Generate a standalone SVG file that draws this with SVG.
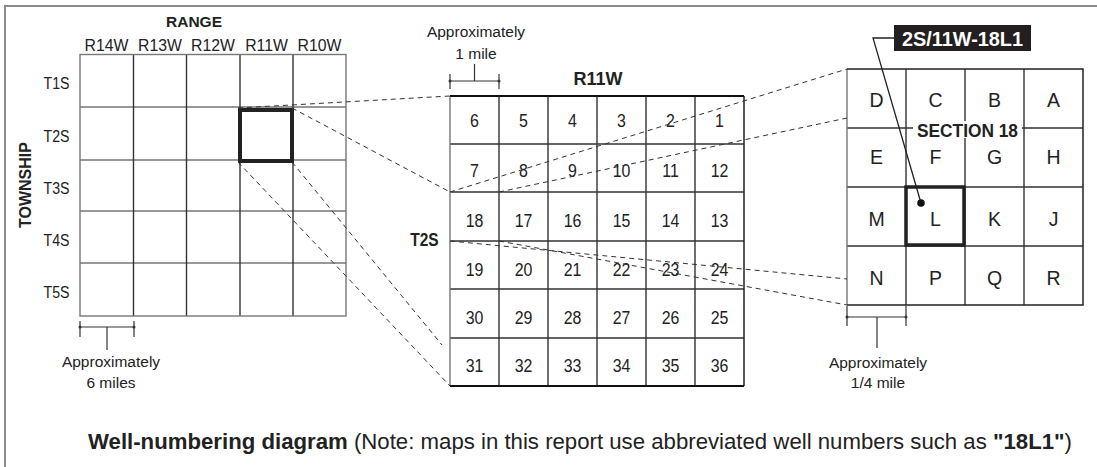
<svg xmlns="http://www.w3.org/2000/svg" width="1097" height="467" viewBox="0 0 1097 467">
<style>
.t{font-family:"Liberation Sans",Arial,sans-serif;fill:#222}
.b{font-weight:bold}
.c{transform-box:fill-box;transform-origin:center;transform:scaleX(0.86)}
.g{fill:none;stroke:#333;stroke-width:1.4}
.gl{fill:none;stroke:#777;stroke-width:1.4}
.thick{fill:none;stroke:#222;stroke-width:4}
.dash{fill:none;stroke:#333;stroke-width:1;stroke-dasharray:5 4}
.sb{fill:none;stroke:#333;stroke-width:1.2}
</style>
<rect x="0" y="0" width="1097" height="467" fill="#fff"/>
<rect x="5" y="6" width="1100" height="470" fill="none" stroke="#8a8a8a" stroke-width="2"/>

<g id="township-grid">
  <text class="t b" x="194" y="27" font-size="15.5" text-anchor="middle">RANGE</text>
  <g class="t" font-size="15.8" text-anchor="middle">
    <text x="106.5" y="51">R14W</text>
    <text x="160" y="51">R13W</text>
    <text x="213" y="51">R12W</text>
    <text x="266.5" y="51">R11W</text>
    <text x="319.5" y="51">R10W</text>
  </g>
  <g class="t" font-size="16.5" text-anchor="middle">
    <text class="c" x="56.5" y="89.5">T1S</text>
    <text class="c" x="56.5" y="142">T2S</text>
    <text class="c" x="56.5" y="194">T3S</text>
    <text class="c" x="56.5" y="246.5">T4S</text>
    <text class="c" x="56.5" y="298">T5S</text>
  </g>
  <text class="t b" font-size="16" text-anchor="middle" transform="translate(31,185) rotate(-90)">TOWNSHIP</text>
  <path class="gl" d="M80,107H346M80,160H346M80,211H346M80,263H346"/>
  <path class="g" d="M133.5,54.5V316M186.5,54.5V316M240,54.5V316M293,54.5V316"/>
  <rect class="gl" x="80" y="54.5" width="266" height="261.5"/>
  <rect class="thick" x="240" y="110" width="52" height="51"/>
  <g id="scale-6mi">
    <path class="sb" d="M80,327H134M80,321V337M134,321V337M107,327V350"/>
    <circle cx="80" cy="327" r="1.5" fill="#333"/><circle cx="134" cy="327" r="1.5" fill="#333"/>
    <text class="t" x="111" y="366.5" font-size="15.5" text-anchor="middle">Approximately</text>
    <text class="t" x="111" y="388" font-size="15.5" text-anchor="middle">6 miles</text>
  </g>
</g>

<g id="section-grid">
  <text class="t b" x="598" y="85" font-size="18" text-anchor="middle">R11W</text>
  <text class="t b c" x="424.5" y="246.5" font-size="18" text-anchor="middle">T2S</text>
  <path class="g" d="M450,144H744M450,192H744M450,241H744M450,289H744M450,338H744"/>
  <path class="g" d="M499,96V386M548,96V386M597,96V386M646,96V386M695,96V386"/>
  <path class="gl" d="M450,96V386"/>
  <path fill="none" stroke="#222" stroke-width="1.5" d="M744,96V386"/>
  <path fill="none" stroke="#111" stroke-width="2.2" d="M450,96H744M450,386H744"/>
  <g class="t" font-size="18.5" text-anchor="middle">
    <text class="c" x="474.5" y="127.5">6</text><text class="c" x="523.5" y="127.5">5</text><text class="c" x="572.5" y="127.5">4</text><text class="c" x="621.5" y="127.5">3</text><text class="c" x="670.5" y="127.5">2</text><text class="c" x="719.5" y="127.5">1</text>
    <text class="c" x="474.5" y="177">7</text><text class="c" x="523.5" y="177">8</text><text class="c" x="572.5" y="177">9</text><text class="c" x="621.5" y="177">10</text><text class="c" x="670.5" y="177">11</text><text class="c" x="719.5" y="177">12</text>
    <text class="c" x="474.5" y="227">18</text><text class="c" x="523.5" y="227">17</text><text class="c" x="572.5" y="227">16</text><text class="c" x="621.5" y="227">15</text><text class="c" x="670.5" y="227">14</text><text class="c" x="719.5" y="227">13</text>
    <text class="c" x="474.5" y="276.5">19</text><text class="c" x="523.5" y="276.5">20</text><text class="c" x="572.5" y="276.5">21</text><text class="c" x="621.5" y="276.5">22</text><text class="c" x="670.5" y="276.5">23</text><text class="c" x="719.5" y="276.5">24</text>
    <text class="c" x="474.5" y="324.5">30</text><text class="c" x="523.5" y="324.5">29</text><text class="c" x="572.5" y="324.5">28</text><text class="c" x="621.5" y="324.5">27</text><text class="c" x="670.5" y="324.5">26</text><text class="c" x="719.5" y="324.5">25</text>
    <text class="c" x="474.5" y="372.5">31</text><text class="c" x="523.5" y="372.5">32</text><text class="c" x="572.5" y="372.5">33</text><text class="c" x="621.5" y="372.5">34</text><text class="c" x="670.5" y="372.5">35</text><text class="c" x="719.5" y="372.5">36</text>
  </g>
  <g id="scale-1mi">
    <path class="sb" d="M450,81H499M450,74V89M499,74V89M474.5,64V81"/>
    <circle cx="450" cy="81" r="1.5" fill="#333"/><circle cx="499" cy="81" r="1.5" fill="#333"/>
    <text class="t" x="476" y="37" font-size="15.5" text-anchor="middle">Approximately</text>
    <text class="t" x="476" y="58.5" font-size="15.5" text-anchor="middle">1 mile</text>
  </g>
</g>

<g id="quarter-grid">
  <path class="g" d="M847,128H1083M847,187H1083M847,246H1083"/>
  <path class="g" d="M906,69V305M965,69V305M1024,69V305"/>
  <path class="gl" d="M847,69V305"/>
  <path fill="none" stroke="#222" stroke-width="1.5" d="M847,69H1083V305H847"/>
  <rect x="913" y="121" width="109" height="17" fill="#fff"/>
  <text class="t b" x="967.5" y="136.7" font-size="18.5" text-anchor="middle" textLength="101" lengthAdjust="spacingAndGlyphs">SECTION 18</text>
  <g class="t" font-size="19.5" text-anchor="middle">
    <text x="876.5" y="107">D</text><text x="935.5" y="107">C</text><text x="994.5" y="107">B</text><text x="1053.5" y="107">A</text>
    <text x="876.5" y="164">E</text><text x="935.5" y="164">F</text><text x="994.5" y="164">G</text><text x="1053.5" y="164">H</text>
    <text x="876.5" y="226">M</text><text x="935.5" y="226">L</text><text x="994.5" y="226">K</text><text x="1053.5" y="226">J</text>
    <text x="876.5" y="285">N</text><text x="935.5" y="285">P</text><text x="994.5" y="285">Q</text><text x="1053.5" y="285">R</text>
  </g>
  <rect x="906" y="187" width="58" height="58" fill="none" stroke="#222" stroke-width="3.5"/>
  <g id="scale-quarter">
    <path class="sb" d="M847,317H906M847,306V326M906,306V326M877,317V348"/>
    <circle cx="847" cy="317" r="1.5" fill="#333"/><circle cx="906" cy="317" r="1.5" fill="#333"/>
    <text class="t" x="878" y="367.5" font-size="15.5" text-anchor="middle">Approximately</text>
    <text class="t" x="878" y="388" font-size="15.5" text-anchor="middle">1/4 mile</text>
  </g>
</g>

<g id="well-label">
  <rect x="894" y="25" width="137" height="26" fill="#231f20"/>
  <text class="t b" x="962.5" y="45.5" font-size="19.5" text-anchor="middle" style="fill:#fff" textLength="121" lengthAdjust="spacingAndGlyphs">2S/11W-18L1</text>
  <path fill="none" stroke="#222" stroke-width="1.3" d="M894,38H873L921,203"/>
  <circle cx="921" cy="203" r="3.8" fill="#111"/>
</g>

<g id="connectors">
  <path class="dash" d="M238,108L450,96"/>
  <path class="dash" d="M292,108L450,192"/>
  <path class="dash" d="M238,162L450,386"/>
  <path class="dash" d="M292,162L442,345"/>
  <path class="dash" d="M450,192L847,69"/>
  <path class="dash" d="M499,192L847,118"/>
  <path class="dash" d="M450,241L847,279"/>
  <path class="dash" d="M499,241L847,305"/>
</g>

<g id="caption">
  <text class="t" x="88" y="449" font-size="21.5" textLength="984" lengthAdjust="spacingAndGlyphs"><tspan class="b">Well-numbering diagram</tspan> (Note: maps in this report use abbreviated well numbers such as <tspan class="b">"18L1"</tspan>)</text>
</g>
</svg>
